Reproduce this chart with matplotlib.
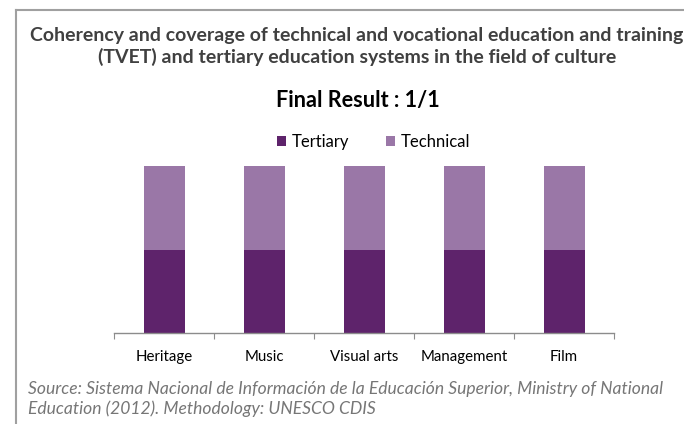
import matplotlib
matplotlib.use("Agg")
import matplotlib.pyplot as plt
from matplotlib.lines import Line2D

categories = ["Heritage", "Music", "Visual arts", "Management", "Film"]
tertiary = [0.5, 0.5, 0.5, 0.5, 0.5]
technical = [0.5, 0.5, 0.5, 0.5, 0.5]
series_names = ["Tertiary", "Technical"]

plt.rcParams['font.family'] = ['Lato', 'DejaVu Sans']

W, H = 684, 424
fig = plt.figure(figsize=(W / 100, H / 100), dpi=100)

def fx(px):
    return px / W

def fy(py):
    return 1 - py / H

# outer frame (partially visible)
fig.add_artist(Line2D([fx(16), fx(16)], [fy(9.5), 0], color="#a0a0a0", lw=1.5))
fig.add_artist(Line2D([fx(16), 1], [fy(9.5), fy(9.5)], color="#a0a0a0", lw=1.5))

ax = fig.add_axes([fx(114.3), fy(333), fx(614) - fx(114.3), fy(166) - fy(333)])
x = list(range(len(categories)))
ax.bar(x, tertiary, width=0.41, color="#5e236b", label=series_names[0])
ax.bar(x, technical, width=0.41, bottom=tertiary, color="#9a77a7", label=series_names[1])
ax.set_xlim(-0.5, len(categories) - 0.5)
ax.set_ylim(0, 1)
for s in ["top", "right", "left"]:
    ax.spines[s].set_visible(False)
ax.spines["bottom"].set_color("#8c8c8c")
ax.spines["bottom"].set_linewidth(1.0)
ax.set_yticks([])
ax.set_xticks([i - 0.5 for i in range(len(categories) + 1)])
ax.set_xticklabels([])
ax.set_xticks(x, minor=True)
ax.set_xticklabels(categories, minor=True, fontsize=10.8, color="black")
ax.tick_params(axis="x", which="major", length=4, color="#8c8c8c", direction="out")
ax.tick_params(axis="x", which="minor", length=0, pad=12)

fig.text(fx(357), fy(40.5), "Coherency and coverage of technical and vocational education and training",
         ha="center", va="baseline", fontsize=14.0, fontweight="bold", color="#404040")
fig.text(fx(357), fy(62.5), "(TVET) and tertiary education systems in the field of culture",
         ha="center", va="baseline", fontsize=14.0, fontweight="bold", color="#404040")
fig.text(fx(357.5), fy(107.5), "Final Result : 1/1", ha="center", va="baseline",
         fontsize=15.6, fontweight="bold", color="black")

leg = fig.legend(loc="center left", bbox_to_anchor=(fx(277), fy(142)), ncol=2, frameon=False,
                 fontsize=12, handlelength=0.55, handleheight=0.55, handletextpad=0.35,
                 columnspacing=2.2, borderpad=0, borderaxespad=0)

fig.text(fx(28), fy(394), "Source: Sistema Nacional de Información de la Educación Superior, Ministry of National",
         ha="left", va="baseline", fontsize=12.6, fontstyle="italic", color="#767676")
fig.text(fx(28), fy(414), "Education (2012). Methodology: UNESCO CDIS",
         ha="left", va="baseline", fontsize=12.6, fontstyle="italic", color="#767676")

fig.savefig("out.png", dpi=100)
